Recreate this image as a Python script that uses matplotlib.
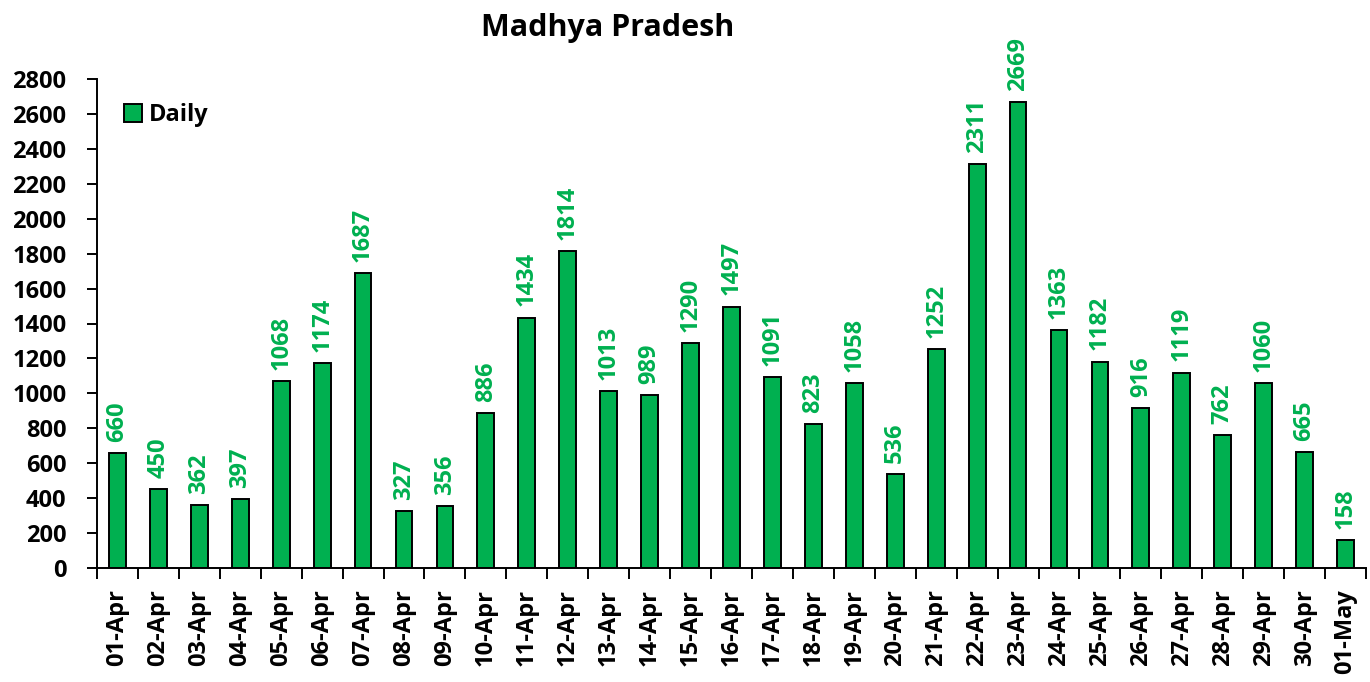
import matplotlib
matplotlib.use("Agg")
import matplotlib.pyplot as plt
import numpy as np

dates = ["01-Apr", "02-Apr", "03-Apr", "04-Apr", "05-Apr", "06-Apr", "07-Apr", "08-Apr",
         "09-Apr", "10-Apr", "11-Apr", "12-Apr", "13-Apr", "14-Apr", "15-Apr", "16-Apr",
         "17-Apr", "18-Apr", "19-Apr", "20-Apr", "21-Apr", "22-Apr", "23-Apr", "24-Apr",
         "25-Apr", "26-Apr", "27-Apr", "28-Apr", "29-Apr", "30-Apr", "01-May"]
daily = [660, 450, 362, 397, 1068, 1174, 1687, 327, 356, 886, 1434, 1814, 1013, 989,
         1290, 1497, 1091, 823, 1058, 536, 1252, 2311, 2669, 1363, 1182, 916, 1119,
         762, 1060, 665, 158]
yticks = list(range(0, 2801, 200))

plt.rcParams['font.family'] = ['Open Sans', 'DejaVu Sans']
plt.rcParams['font.weight'] = 'bold'

green = "#00B050"
fs = 17
fig = plt.figure(figsize=(13.7, 6.82), dpi=100)
ax = fig.add_axes([97/1370, 1-568/682, (1366-97)/1370, (568-79)/682])

x = np.arange(len(dates))
ax.bar(x, daily, width=0.41, color=green, edgecolor="black", linewidth=1.4, label="Daily", zorder=2)
for xi, v in zip(x, daily):
    ax.annotate(str(v), (xi, v), xytext=(0, 8), textcoords="offset points",
                rotation=90, ha="center", va="bottom", color=green,
                fontsize=fs, fontweight="bold")

ax.set_xlim(-0.5, len(dates) - 0.5)
ax.set_ylim(0, 2800)
ax.set_yticks(yticks)
ax.set_yticklabels([str(t) for t in yticks], fontsize=fs, fontweight="bold")
ax.set_xticks(x)
ax.set_xticklabels(dates, rotation=90, fontsize=fs, fontweight="bold")
ax.tick_params(axis="x", length=0, pad=15)
ax.set_xticks(np.arange(-0.5, len(dates), 1), minor=True)
ax.tick_params(axis="x", which="minor", length=8, width=1.4, direction="out")
ax.tick_params(axis="y", length=7, width=1.4, direction="out", pad=15)
for s in ["top", "right"]:
    ax.spines[s].set_visible(False)
for s in ["left", "bottom"]:
    ax.spines[s].set_linewidth(1.4)

ax.legend(loc="upper left", bbox_to_anchor=(0.014, 0.97), frameon=False,
          prop={"size": fs, "weight": "bold"}, handlelength=0.75, handleheight=0.85,
          handletextpad=0.3, borderaxespad=0)

fig.text(608/1370, 1-28/682, "Madhya Pradesh", ha="center", va="center",
         fontsize=22, fontweight="bold")

fig.savefig("out.png", dpi=100)
